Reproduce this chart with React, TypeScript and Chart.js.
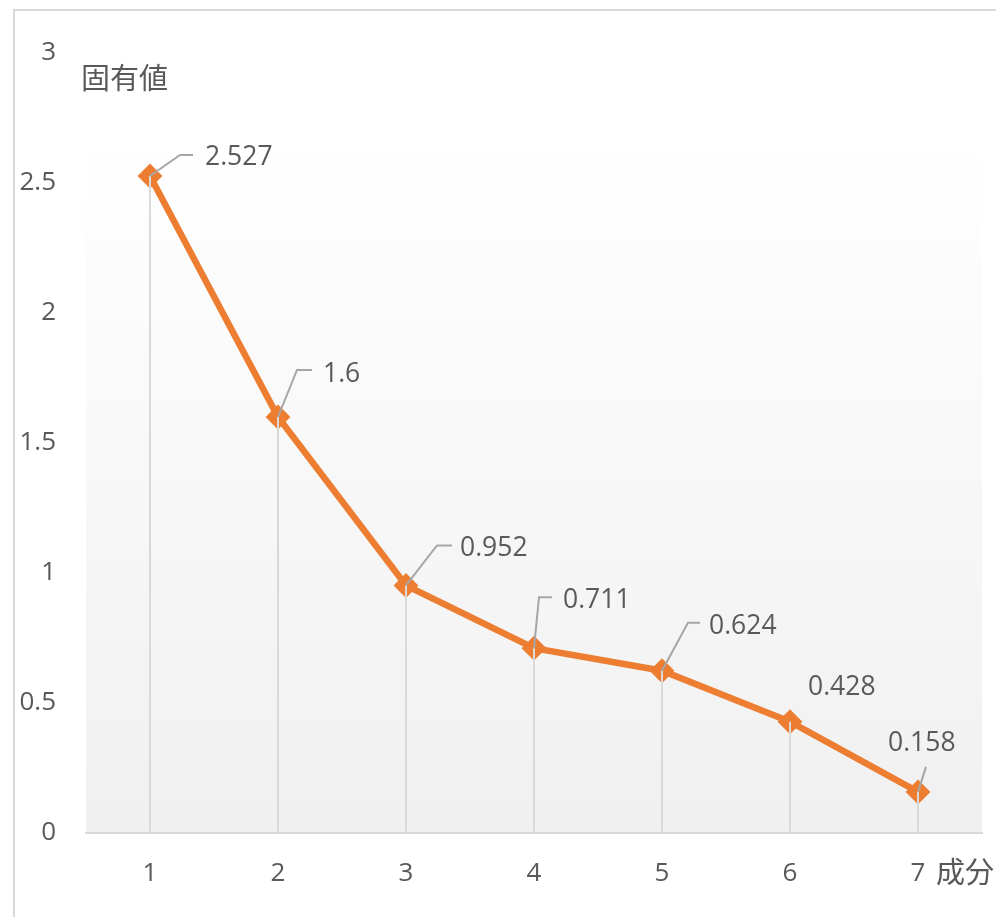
import React, { useEffect, useRef } from "react";
import { Chart, registerables } from "chart.js";

Chart.register(...registerables);

const categories = ["1", "2", "3", "4", "5", "6", "7"];
const eigenvalues = [2.527, 1.6, 0.952, 0.711, 0.624, 0.428, 0.158];
const valueLabels = ["2.527", "1.6", "0.952", "0.711", "0.624", "0.428", "0.158"];
const yTitle = "固有値";
const xTitle = "成分";

// label placement (style): offsets from the point, leader polyline
const labelOffsets = [
  [55, -19], [45, -43], [54, -37], [29, -48], [47, -44], [18, -34], [-30, -48],
];
const leaders: number[][][] = [
  [[0, 0], [30, -21], [43, -21]],
  [[0, 0], [19, -47], [34, -47]],
  [[0, 0], [31, -40], [46, -40]],
  [[0, 0], [5, -51], [18, -51]],
  [[0, 0], [26, -48], [38, -48]],
  [],
  [[0, 0], [8, -25]],
];

const FONT = '"Open Sans", "Noto Sans CJK JP", sans-serif';
const TEXT = "#595959";

export default function App() {
  const ref = useRef<HTMLCanvasElement | null>(null);
  useEffect(() => {
    if (!ref.current) return;
    const decor = {
      id: "decor",
      beforeDraw(chart: any) {
        const { ctx, chartArea } = chart;
        ctx.save();
        ctx.fillStyle = "#d9d9d9";
        ctx.fillRect(13, 9, 2, 917);
        ctx.fillRect(13, 9, 996, 2);
        const top = chartArea.top + 88;
        const g = ctx.createLinearGradient(0, top, 0, chartArea.bottom);
        g.addColorStop(0, "#ffffff");
        g.addColorStop(1, "#f0f0f0");
        ctx.fillStyle = g;
        ctx.fillRect(chartArea.left, top, chartArea.right - chartArea.left, chartArea.bottom - top);
        ctx.restore();
      },
      afterDatasetsDraw(chart: any) {
        const { ctx, chartArea } = chart;
        const meta = chart.getDatasetMeta(0);
        ctx.save();
        ctx.strokeStyle = "#d9d9d9";
        ctx.lineWidth = 2;
        meta.data.forEach((p: any) => {
          ctx.beginPath();
          ctx.moveTo(p.x, p.y);
          ctx.lineTo(p.x, chartArea.bottom);
          ctx.stroke();
        });
        ctx.strokeStyle = "#a6a6a6";
        ctx.lineWidth = 2;
        meta.data.forEach((p: any, i: number) => {
          const l = leaders[i];
          if (!l || l.length < 2) return;
          ctx.beginPath();
          l.forEach((pt, j) => {
            if (j === 0) ctx.moveTo(p.x + pt[0], p.y + pt[1]);
            else ctx.lineTo(p.x + pt[0], p.y + pt[1]);
          });
          ctx.stroke();
        });
        ctx.fillStyle = TEXT;
        ctx.font = `26.5px ${FONT}`;
        ctx.textAlign = "left";
        ctx.textBaseline = "middle";
        meta.data.forEach((p: any, i: number) => {
          const o = labelOffsets[i];
          ctx.fillText(valueLabels[i], p.x + o[0], p.y + o[1]);
        });
        ctx.font = `29px "Noto Sans CJK JP", sans-serif`;
        ctx.fillText(yTitle, 81, 78);
        const xs = chart.scales.x;
        const last = xs.getPixelForValue(categories.length - 1);
        ctx.fillText(xTitle, last + 18, 872);
        ctx.restore();
      },
    };
    const chart = new Chart(ref.current, {
      type: "line",
      data: {
        labels: categories,
        datasets: [
          {
            data: eigenvalues,
            borderColor: "#ED7D31",
            backgroundColor: "#ED7D31",
            borderWidth: 6.5,
            pointStyle: "rectRot",
            pointRadius: 11,
            pointBorderWidth: 2,
            pointBackgroundColor: "#ED7D31",
            pointBorderColor: "#ED7D31",
            tension: 0,
          },
        ],
      },
      options: {
        responsive: false,
        animation: false,
        devicePixelRatio: 1,
        layout: { padding: { top: 53, right: 14, left: 0, bottom: 0 } },
        plugins: { legend: { display: false }, tooltip: { enabled: false } },
        scales: {
          x: {
            type: "category",
            offset: true,
            grid: { display: false, drawTicks: false },
            border: { display: true, color: "#d9d9d9", width: 2 },
            ticks: { color: TEXT, font: { size: 26, family: FONT }, padding: 25 },
            afterFit(scale: any) {
              scale.height = 84;
            },
          },
          y: {
            min: 0,
            max: 3,
            grid: { display: false, drawTicks: false },
            border: { display: false },
            ticks: {
              stepSize: 0.5,
              color: TEXT,
              font: { size: 26, family: FONT },
              padding: 30,
              callback: (v: any) => String(Number(v)),
            },
            afterFit(scale: any) {
              scale.width = 86;
            },
          },
        },
      },
      plugins: [decor],
    } as any);
    return () => chart.destroy();
  }, []);
  return (
    <div style={{ position: "absolute", left: 0, top: 0, width: 996, height: 917, background: "#fff" }}>
      <canvas ref={ref} width={996} height={917} />
    </div>
  );
}
